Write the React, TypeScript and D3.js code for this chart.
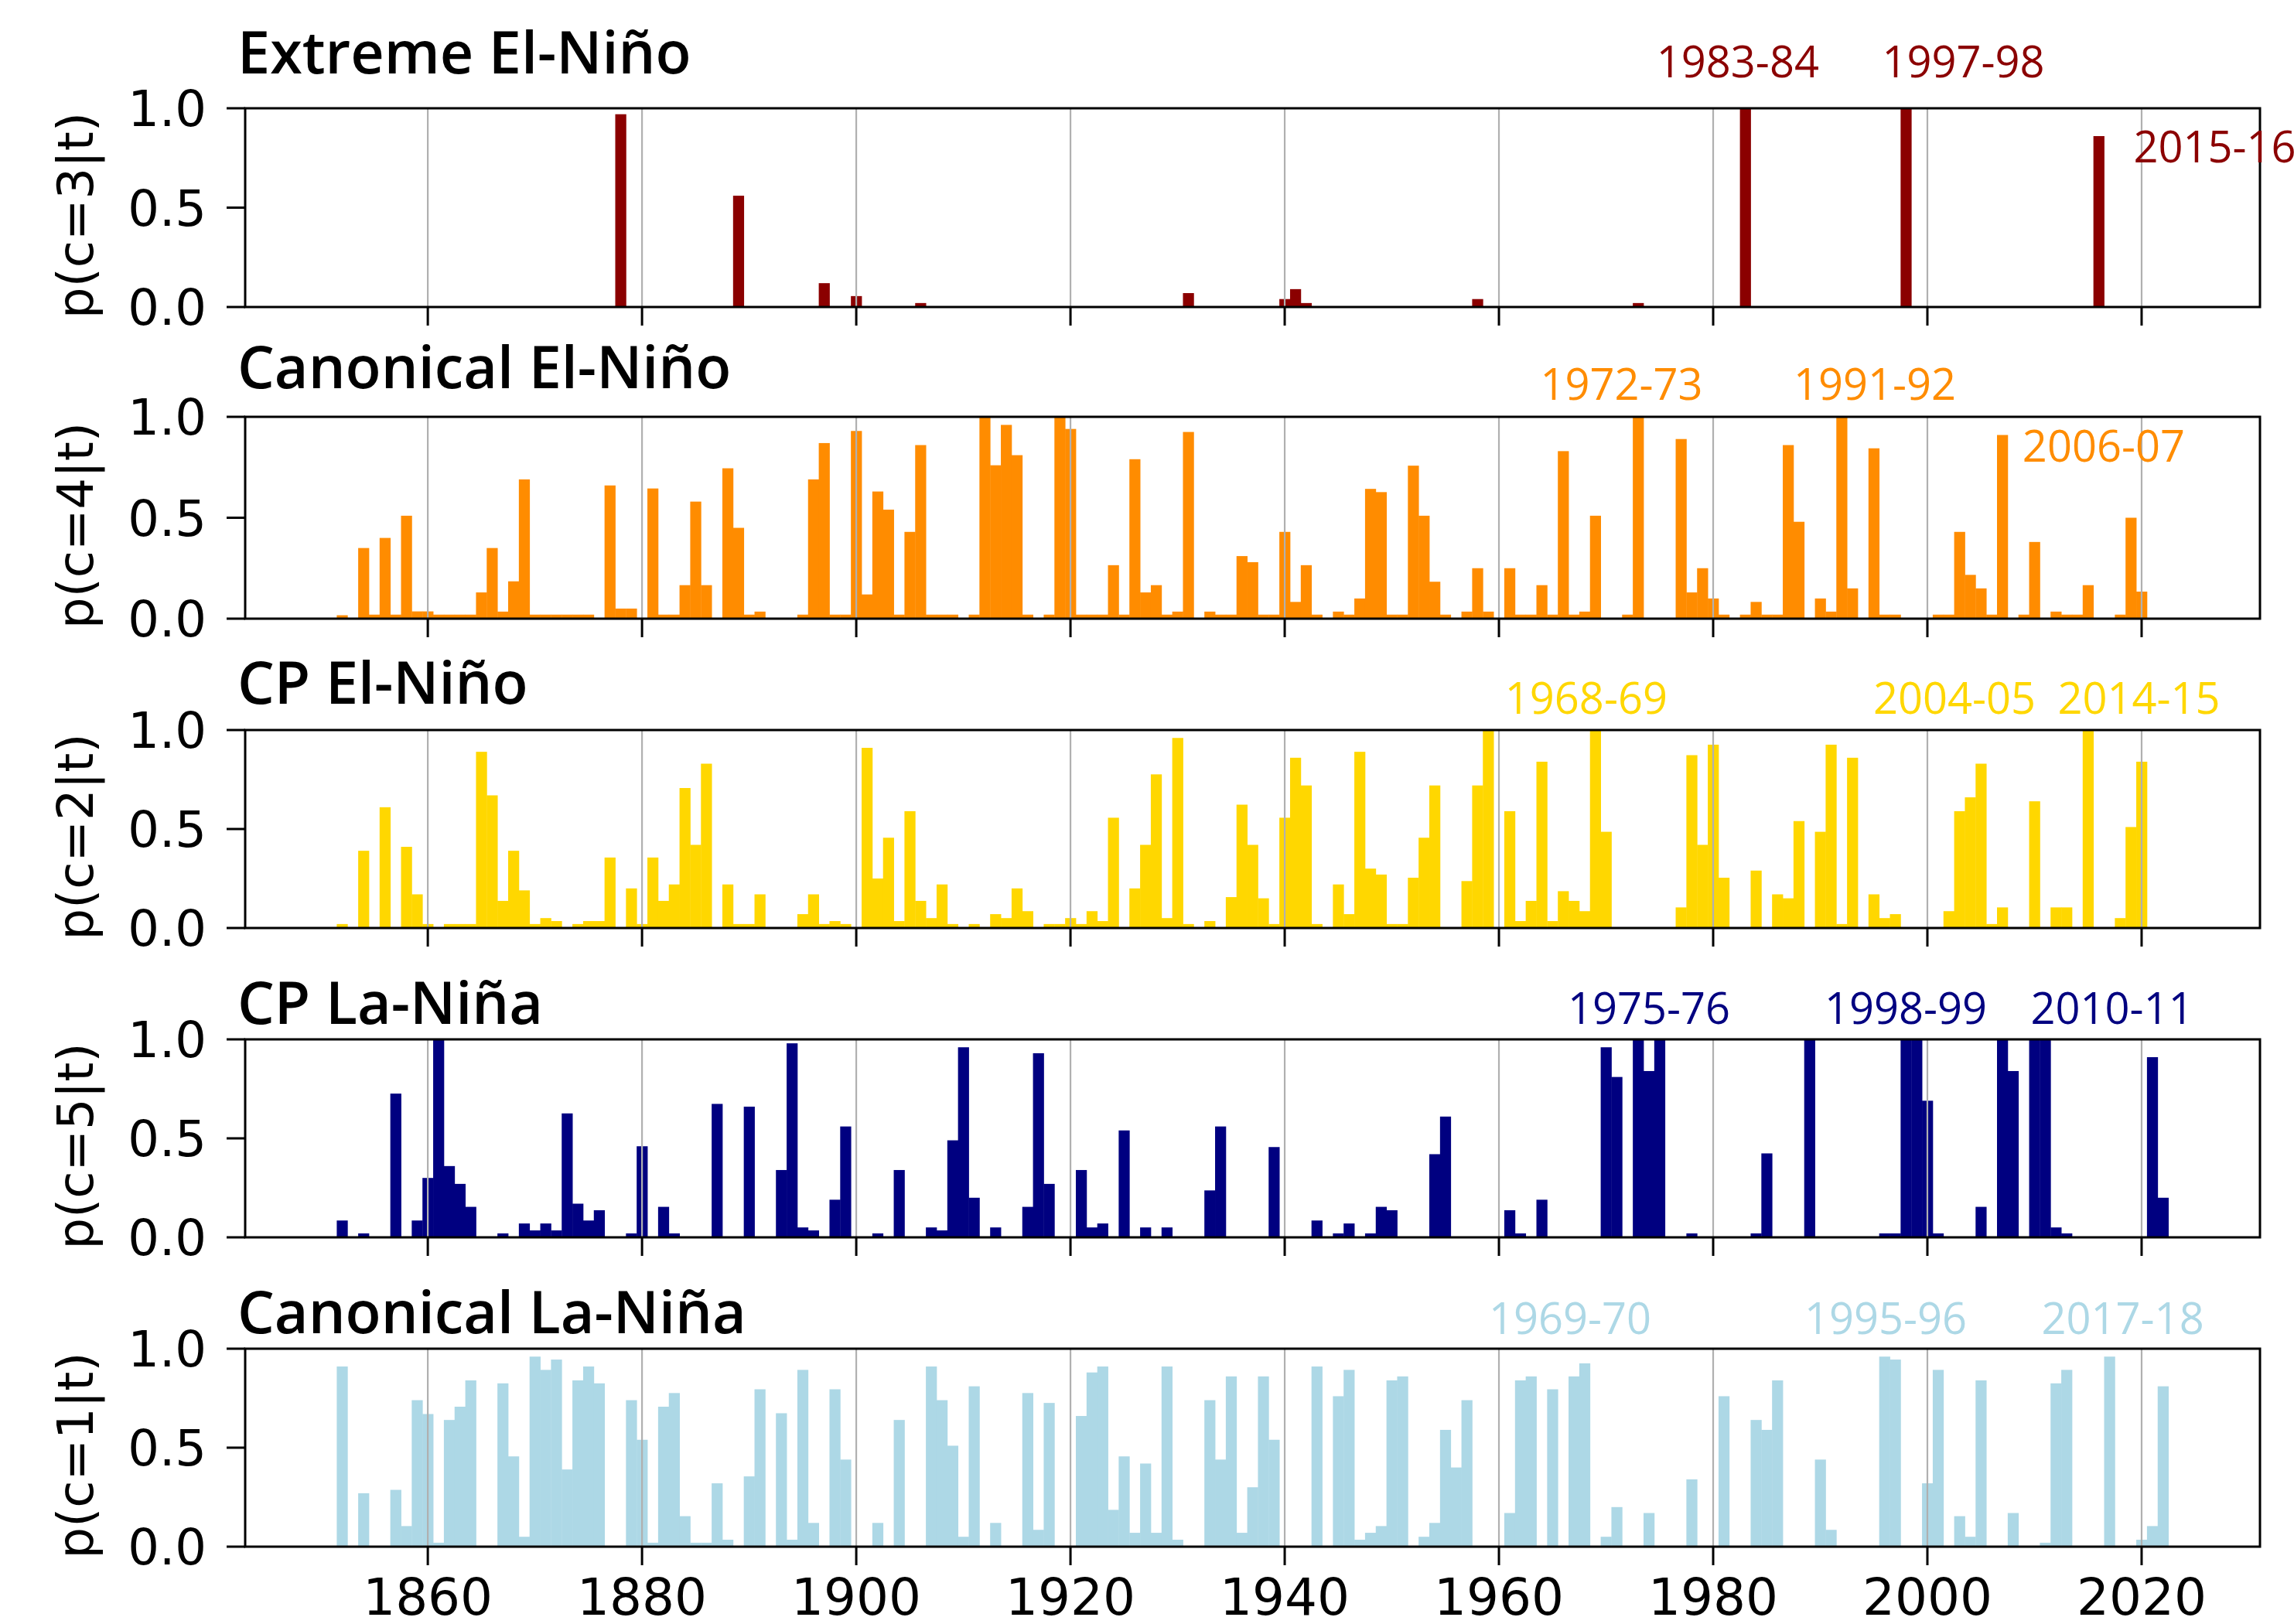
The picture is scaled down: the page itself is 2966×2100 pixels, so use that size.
import { useEffect, useRef } from 'react'
import * as d3 from 'd3'

// [year, probability] — years not listed are ~0
const extremeElNino: [number, number][] = [
  [1878,0.97],[1889,0.56],[1897,0.12],[1900,0.055],[1906,0.02],[1931,0.07],[1940,0.04],[1941,0.09],[1942,0.02],
  [1958,0.04],[1973,0.02],[1983,1.0],[1998,1.0],[2016,0.86],
]
const canonicalElNino: [number, number][] = [
  [1852,0.017],[1854,0.35],[1855,0.02],[1856,0.40],[1857,0.02],[1858,0.51],[1859,0.036],[1860,0.036],[1861,0.02],
  [1862,0.02],[1863,0.02],[1864,0.02],[1865,0.13],[1866,0.35],[1867,0.035],[1868,0.185],[1869,0.69],[1870,0.02],
  [1871,0.02],[1872,0.02],[1873,0.02],[1874,0.02],[1875,0.02],[1877,0.66],[1878,0.05],[1879,0.05],[1881,0.645],
  [1882,0.02],[1883,0.02],[1884,0.166],[1885,0.58],[1886,0.166],[1888,0.745],[1889,0.45],[1890,0.02],[1891,0.035],
  [1895,0.02],[1896,0.69],[1897,0.87],[1898,0.02],[1899,0.02],[1900,0.93],[1901,0.12],[1902,0.63],[1903,0.54],
  [1904,0.02],[1905,0.43],[1906,0.86],[1907,0.02],[1908,0.02],[1909,0.02],[1911,0.02],[1912,1.0],[1913,0.76],
  [1914,0.96],[1915,0.81],[1916,0.02],[1918,0.02],[1919,1.0],[1920,0.94],[1921,0.02],[1922,0.02],[1923,0.02],
  [1924,0.265],[1925,0.02],[1926,0.79],[1927,0.13],[1928,0.166],[1929,0.02],[1930,0.035],[1931,0.925],[1933,0.035],
  [1934,0.02],[1935,0.02],[1936,0.31],[1937,0.28],[1938,0.02],[1939,0.02],[1940,0.43],[1941,0.083],[1942,0.265],
  [1943,0.02],[1945,0.035],[1946,0.02],[1947,0.1],[1948,0.643],[1949,0.627],[1950,0.02],[1951,0.02],[1952,0.758],
  [1953,0.51],[1954,0.183],[1955,0.02],[1957,0.035],[1958,0.25],[1959,0.035],[1961,0.25],[1962,0.02],[1963,0.02],
  [1964,0.166],[1965,0.02],[1966,0.83],[1967,0.02],[1968,0.035],[1969,0.51],[1972,0.02],[1973,1.0],[1977,0.89],
  [1978,0.13],[1979,0.25],[1980,0.10],[1981,0.02],[1983,0.02],[1984,0.083],[1985,0.02],[1986,0.02],[1987,0.86],
  [1988,0.48],[1990,0.10],[1991,0.035],[1992,1.0],[1993,0.15],[1995,0.844],[1996,0.02],[1997,0.02],[2001,0.02],
  [2002,0.02],[2003,0.43],[2004,0.217],[2005,0.15],[2006,0.02],[2007,0.91],[2009,0.02],[2010,0.38],[2012,0.035],
  [2013,0.02],[2014,0.02],[2015,0.166],[2018,0.02],[2019,0.5],[2020,0.134],
]
const cpElNino: [number, number][] = [
  [1852,0.02],[1854,0.39],[1856,0.61],[1858,0.41],[1859,0.17],[1860,0.02],[1862,0.02],[1863,0.02],[1864,0.02],
  [1865,0.89],[1866,0.67],[1867,0.137],[1868,0.39],[1869,0.19],[1870,0.02],[1871,0.05],[1872,0.035],[1874,0.02],
  [1875,0.035],[1876,0.035],[1877,0.356],[1879,0.2],[1880,0.02],[1881,0.356],[1882,0.137],[1883,0.22],[1884,0.707],
  [1885,0.42],[1886,0.83],[1888,0.22],[1889,0.02],[1890,0.02],[1891,0.17],[1895,0.07],[1896,0.17],[1897,0.02],
  [1898,0.035],[1899,0.02],[1901,0.91],[1902,0.25],[1903,0.456],[1904,0.035],[1905,0.59],[1906,0.137],[1907,0.05],
  [1908,0.22],[1909,0.02],[1911,0.02],[1913,0.07],[1914,0.05],[1915,0.2],[1916,0.085],[1918,0.02],[1919,0.02],
  [1920,0.05],[1921,0.02],[1922,0.085],[1923,0.035],[1924,0.557],[1926,0.2],[1927,0.42],[1928,0.776],[1929,0.05],
  [1930,0.96],[1931,0.02],[1933,0.035],[1935,0.156],[1936,0.623],[1937,0.42],[1938,0.15],[1939,0.02],[1940,0.557],
  [1941,0.86],[1942,0.72],[1943,0.02],[1945,0.22],[1946,0.07],[1947,0.89],[1948,0.30],[1949,0.27],[1950,0.02],
  [1951,0.02],[1952,0.254],[1953,0.456],[1954,0.72],[1957,0.237],[1958,0.72],[1959,1.0],[1961,0.59],[1962,0.035],
  [1963,0.137],[1964,0.84],[1965,0.035],[1966,0.186],[1967,0.137],[1968,0.085],[1969,1.0],[1970,0.486],[1977,0.104],
  [1978,0.873],[1979,0.42],[1980,0.926],[1981,0.254],[1984,0.29],[1986,0.17],[1987,0.15],[1988,0.54],[1990,0.486],
  [1991,0.926],[1992,0.02],[1993,0.86],[1995,0.17],[1996,0.05],[1997,0.07],[2002,0.085],[2003,0.59],[2004,0.66],
  [2005,0.83],[2006,0.02],[2007,0.104],[2010,0.64],[2012,0.104],[2013,0.104],[2015,1.0],[2018,0.05],[2019,0.51],
  [2020,0.84],
]
const cpLaNina: [number, number][] = [
  [1852,0.085],[1854,0.02],[1857,0.726],[1859,0.085],[1860,0.30],[1861,1.0],[1862,0.36],[1863,0.27],[1864,0.154],
  [1867,0.02],[1869,0.07],[1870,0.035],[1871,0.07],[1872,0.035],[1873,0.626],[1874,0.17],[1875,0.085],[1876,0.137],
  [1879,0.02],[1880,0.46],[1882,0.154],[1883,0.02],[1887,0.674],[1890,0.66],[1893,0.34],[1894,0.98],[1895,0.05],
  [1896,0.035],[1898,0.19],[1899,0.56],[1902,0.02],[1904,0.34],[1907,0.05],[1908,0.035],[1909,0.49],[1910,0.96],
  [1911,0.2],[1913,0.05],[1916,0.154],[1917,0.93],[1918,0.27],[1921,0.34],[1922,0.05],[1923,0.07],[1925,0.54],
  [1927,0.05],[1929,0.05],[1933,0.237],[1934,0.56],[1939,0.456],[1943,0.085],[1945,0.02],[1946,0.07],[1948,0.02],
  [1949,0.154],[1950,0.137],[1954,0.42],[1955,0.61],[1961,0.137],[1962,0.02],[1964,0.19],[1970,0.96],[1971,0.81],
  [1973,1.0],[1974,0.84],[1975,1.0],[1978,0.02],[1984,0.02],[1985,0.424],[1989,1.0],[1996,0.02],[1997,0.02],
  [1998,1.0],[1999,1.0],[2000,0.69],[2001,0.02],[2005,0.154],[2007,1.0],[2008,0.84],[2010,1.0],[2011,1.0],
  [2012,0.05],[2013,0.02],[2021,0.91],[2022,0.2],
]
const canonicalLaNina: [number, number][] = [
  [1852,0.91],[1854,0.27],[1857,0.287],[1858,0.104],[1859,0.74],[1860,0.67],[1861,0.02],[1862,0.64],[1863,0.707],
  [1864,0.84],[1867,0.825],[1868,0.456],[1869,0.05],[1870,0.96],[1871,0.893],[1872,0.945],[1873,0.39],[1874,0.84],
  [1875,0.91],[1876,0.825],[1879,0.74],[1880,0.54],[1881,0.02],[1882,0.707],[1883,0.776],[1884,0.154],[1885,0.02],
  [1886,0.02],[1887,0.32],[1888,0.035],[1890,0.355],[1891,0.795],[1893,0.674],[1894,0.035],[1895,0.893],[1896,0.12],
  [1898,0.795],[1899,0.44],[1902,0.12],[1904,0.64],[1907,0.91],[1908,0.74],[1909,0.51],[1910,0.05],[1911,0.81],
  [1913,0.12],[1916,0.776],[1917,0.085],[1918,0.726],[1921,0.66],[1922,0.88],[1923,0.91],[1924,0.186],[1925,0.456],
  [1926,0.07],[1927,0.42],[1928,0.07],[1929,0.91],[1930,0.035],[1933,0.74],[1934,0.44],[1935,0.86],[1936,0.07],
  [1937,0.30],[1938,0.86],[1939,0.54],[1943,0.91],[1945,0.76],[1946,0.893],[1947,0.035],[1948,0.07],[1949,0.104],
  [1950,0.84],[1951,0.86],[1953,0.05],[1954,0.12],[1955,0.59],[1956,0.40],[1957,0.74],[1961,0.17],[1962,0.84],
  [1963,0.86],[1965,0.795],[1967,0.86],[1968,0.926],[1970,0.05],[1971,0.2],[1974,0.17],[1978,0.34],[1981,0.76],
  [1984,0.64],[1985,0.59],[1986,0.84],[1990,0.44],[1991,0.085],[1996,0.96],[1997,0.945],[2000,0.32],[2001,0.893],
  [2003,0.154],[2004,0.05],[2005,0.84],[2008,0.17],[2011,0.02],[2012,0.825],[2013,0.893],[2017,0.96],[2020,0.035],
  [2021,0.104],[2022,0.81],
]

// event labels: [text, x in years, y in probability units, anchor]
const extremeNotes: [string, number, number, string][] = [['1983-84',1982.3,1.156,'middle'],['1997-98',2003.36,1.156,'middle'],['2015-16',2019.24,0.728,'start']]
const canonicalElNotes: [string, number, number, string][] = [['1972-73',1971.44,1.084,'middle'],['1991-92',1995.09,1.084,'middle'],['2006-07',2016.46,0.778,'middle']]
const cpElNotes: [string, number, number, string][] = [['1968-69',1968.15,1.082,'middle'],['2004-05',2002.53,1.082,'middle'],['2014-15',2019.75,1.082,'middle']]
const cpLaNotes: [string, number, number, string][] = [['1975-76',1974.01,1.078,'middle'],['1998-99',1997.98,1.078,'middle'],['2010-11',2017.23,1.078,'middle']]
const canonicalLaNotes: [string, number, number, string][] = [['1969-70',1966.64,1.074,'middle'],['1995-96',1996.1,1.074,'middle'],['2017-18',2018.24,1.074,'middle']]

const xTicks = [1860, 1880, 1900, 1920, 1940, 1960, 1980, 2000, 2020]
const yTicks = [0, 0.5, 1]

const panels = [
  { title: 'Extreme El-Niño', ylabel: 'p(c=3|t)', color: '#8b0000', data: extremeElNino, notes: extremeNotes },
  { title: 'Canonical El-Niño', ylabel: 'p(c=4|t)', color: '#ff8c00', data: canonicalElNino, notes: canonicalElNotes },
  { title: 'CP El-Niño', ylabel: 'p(c=2|t)', color: '#ffd700', data: cpElNino, notes: cpElNotes },
  { title: 'CP La-Niña', ylabel: 'p(c=5|t)', color: '#000080', data: cpLaNina, notes: cpLaNotes },
  { title: 'Canonical La-Niña', ylabel: 'p(c=1|t)', color: '#add8e6', data: canonicalLaNina, notes: canonicalLaNotes },
]

// pixel layout of the five axes boxes
const boxes = [
  { t: 140, b: 397, titleUp: 45 },
  { t: 539, b: 800, titleUp: 37 },
  { t: 944, b: 1200, titleUp: 34 },
  { t: 1344, b: 1600, titleUp: 20 },
  { t: 1744, b: 2000, titleUp: 20 },
]

const W = 2966, H = 2100
const L = 317, R = 2922
const SANS = 'DejaVu Sans'
const OPEN = '"Open Sans"'

export default function App() {
  const ref = useRef<SVGSVGElement>(null)

  useEffect(() => {
    const svg = d3.select(ref.current!)
    svg.selectAll('*').remove()
    svg.append('rect').attr('width', W).attr('height', H).attr('fill', '#fff')

    const x = d3.scaleLinear().domain([1842.95, 2031.05]).range([L, R])

    panels.forEach((p, i) => {
      const { t, b, titleUp } = boxes[i]
      const y = d3.scaleLinear().domain([0, 1]).range([b, t])
      const g = svg.append('g')

      g.selectAll('rect.bar').data(p.data).join('rect')
        .attr('x', d => x(d[0] - 0.5))
        .attr('width', d => x(d[0] + 0.5) - x(d[0] - 0.5) + 0.4)
        .attr('y', d => y(d[1]))
        .attr('height', d => y(0) - y(d[1]))
        .attr('fill', p.color)

      // vertical grid on top of bars
      g.selectAll('line.grid').data(xTicks).join('line')
        .attr('x1', d => x(d)).attr('x2', d => x(d))
        .attr('y1', t).attr('y2', b)
        .attr('stroke', '#b0b0b0').attr('stroke-width', 2.2)

      g.append('rect').attr('x', L).attr('y', t).attr('width', R - L).attr('height', b - t)
        .attr('fill', 'none').attr('stroke', '#000').attr('stroke-width', 3)

      g.selectAll('line.xt').data(xTicks).join('line')
        .attr('x1', d => x(d)).attr('x2', d => x(d))
        .attr('y1', b).attr('y2', b + 24)
        .attr('stroke', '#000').attr('stroke-width', 3)

      g.selectAll('line.yt').data(yTicks).join('line')
        .attr('x1', L - 24).attr('x2', L)
        .attr('y1', d => y(d)).attr('y2', d => y(d))
        .attr('stroke', '#000').attr('stroke-width', 3)

      g.selectAll('text.yl').data(yTicks).join('text')
        .attr('x', L - 50).attr('y', d => y(d))
        .attr('dy', '0.36em')
        .attr('text-anchor', 'end')
        .attr('font-family', SANS).attr('font-size', 64)
        .text(d => d3.format('.1f')(d))

      g.append('text')
        .attr('transform', `translate(120,${(t + b) / 2 + 10}) rotate(-90)`)
        .attr('text-anchor', 'middle')
        .attr('font-family', SANS).attr('font-size', 64)
        .text(p.ylabel)

      g.append('text')
        .attr('x', 307).attr('y', t - titleUp)
        .attr('font-family', OPEN).attr('font-weight', 600).attr('font-size', 75.5)
        .text(p.title)

      g.selectAll('text.note').data(p.notes).join('text')
        .attr('x', d => x(d[1])).attr('y', d => y(d[2]))
        .attr('text-anchor', d => d[3])
        .attr('font-family', OPEN).attr('font-size', 56)
        .attr('fill', p.color)
        .text(d => d[0])

      if (i === panels.length - 1) {
        g.selectAll('text.xl').data(xTicks).join('text')
          .attr('x', d => x(d)).attr('y', b + 88)
          .attr('text-anchor', 'middle')
          .attr('font-family', SANS).attr('font-size', 66)
          .text(d => d)
      }
    })
  }, [])

  return (
    <svg ref={ref} width={W} height={H}
      style={{ position: 'absolute', left: 0, top: 0, display: 'block' }} />
  )
}
